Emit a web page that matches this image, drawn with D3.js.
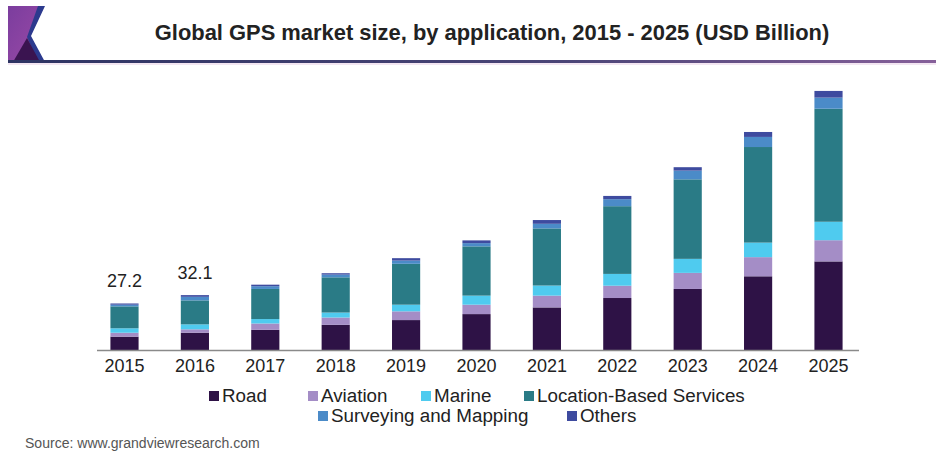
<!DOCTYPE html>
<html><head><meta charset="utf-8">
<script src="https://cdn.jsdelivr.net/npm/d3@7"></script>
<style>body{margin:0;background:#fff}svg{display:block}</style>
</head><body><svg id="c" width="936" height="455"></svg>
<script>
const years = ["2015","2016","2017","2018","2019","2020","2021","2022","2023","2024","2025"];
const seriesNames = ["Road","Aviation","Marine","Location-Based Services","Surveying and Mapping","Others"];
const road     = [7.8, 10.1, 11.8, 14.7, 17.5, 21.0, 24.9, 30.4, 35.7, 43.1, 51.8];
const aviation = [2.3, 2.0, 3.7, 4.3, 5.1, 5.5, 6.9, 7.2, 9.4, 11.2, 12.4];
const marine   = [2.6, 2.9, 2.6, 2.9, 3.9, 5.3, 5.9, 6.9, 8.2, 8.5, 10.8];
const lbs      = [12.8, 14.0, 17.6, 20.6, 23.9, 28.8, 33.4, 39.6, 46.5, 55.9, 66.1];
const survey   = [1.0, 2.1, 1.6, 1.6, 1.9, 1.9, 2.7, 4.1, 5.1, 5.9, 6.5];
const others   = [0.7, 1.0, 0.9, 0.8, 1.4, 1.6, 2.2, 1.9, 2.0, 2.9, 3.9];
const valueLabels = ["27.2","32.1"];
const colors = ["#2e1246","#a48dc6","#4fcbef","#2a7b86","#4b8bc8","#3e4b9f"];
const title = "Global GPS market size, by application, 2015 - 2025 (USD Billion)";
const source = "Source: www.grandviewresearch.com";

const svg = d3.select("#c");
const font = "'Liberation Sans', Arial, sans-serif";
const defs = svg.append("defs");

const lg = defs.append("linearGradient").attr("id","hl").attr("x1","0").attr("x2","1");
lg.append("stop").attr("offset","0").attr("stop-color","#2e3463");
lg.append("stop").attr("offset","0.6").attr("stop-color","#4b4577");
lg.append("stop").attr("offset","1").attr("stop-color","#86609a");
const pg = defs.append("linearGradient").attr("id","lp").attr("x1","0").attr("x2","1").attr("y1","0").attr("y2","1");
pg.append("stop").attr("offset","0").attr("stop-color","#7b3d9e");
pg.append("stop").attr("offset","1").attr("stop-color","#9a4aa6");

// logo
svg.append("polygon").attr("points","8,6 44,6 30,36 44,62 8,62").attr("fill","url(#lp)");
svg.append("polygon").attr("points","38,6 45,6 31,36 45,62 38,62 27,37").attr("fill","#2c3a8e");
svg.append("polygon").attr("points","13,62 27,38 40,62").attr("fill","#3a1450");
// header line
svg.append("rect").attr("x",8).attr("y",60).attr("width",928).attr("height",3).attr("fill","url(#hl)");
svg.append("rect").attr("x",8).attr("y",63).attr("width",928).attr("height",2).attr("fill","#f3e6f2");

// title
const t = svg.append("text").attr("x",492).attr("y",40).attr("text-anchor","middle")
  .attr("font-family",font).attr("font-weight","bold").attr("font-size",18).attr("fill","#222").text(title);
const tw = t.node().getComputedTextLength();
t.attr("font-size", 18*675/tw);

const table = years.map((y,i)=>({year:y, "Road":road[i], "Aviation":aviation[i], "Marine":marine[i],
  "Location-Based Services":lbs[i], "Surveying and Mapping":survey[i], "Others":others[i]}));
const stack = d3.stack().keys(seriesNames)(table);

const x = d3.scaleBand().domain(years).range([89.3, 863.7]).paddingInner(0.6).paddingOuter(0.3);
const y = d3.scaleLinear().domain([0,160]).range([350, 350-1.71*160]);

svg.append("g").selectAll("g").data(stack).join("g").attr("fill",(d,i)=>colors[i])
  .selectAll("rect").data(d=>d).join("rect")
  .attr("x",d=>x(d.data.year)).attr("width",x.bandwidth())
  .attr("y",d=>y(d[1])).attr("height",d=>y(d[0])-y(d[1]));

const ax = svg.append("g").attr("transform","translate(0,350)")
  .call(d3.axisBottom(x).tickSize(0).tickPadding(9));
ax.select(".domain").attr("stroke","#8a8a8a").attr("stroke-width",1.5).attr("d","M97,0.5H859");
ax.selectAll("text").attr("font-family",font).attr("font-size",18).attr("fill","#222");

const totals = table.map(d=>seriesNames.reduce((s,k)=>s+d[k],0));
svg.append("g").selectAll("text").data(valueLabels).join("text")
  .attr("x",(d,i)=>x(years[i])+x.bandwidth()/2).attr("y",(d,i)=>y(totals[i])-16)
  .attr("text-anchor","middle").attr("font-family",font).attr("font-size",18).attr("fill","#222").text(d=>d);

// legend
const legPos = [[209,402],[308,402],[421,402],[524,402],[318,422],[567,422]];
const leg = svg.append("g").selectAll("g").data(seriesNames).join("g")
  .attr("transform",(d,i)=>`translate(${legPos[i][0]},${legPos[i][1]})`);
leg.append("rect").attr("x",0).attr("y",-11).attr("width",10).attr("height",10).attr("fill",(d,i)=>colors[i]);
leg.append("text").attr("x",13).attr("y",0).attr("font-family",font).attr("font-size",18.8).attr("fill","#222").text(d=>d);

// source
const s = svg.append("text").attr("x",25).attr("y",448).attr("font-family",font).attr("font-size",13).attr("fill","#555").text(source);
s.attr("font-size", 13*235/s.node().getComputedTextLength());
</script></body></html>
